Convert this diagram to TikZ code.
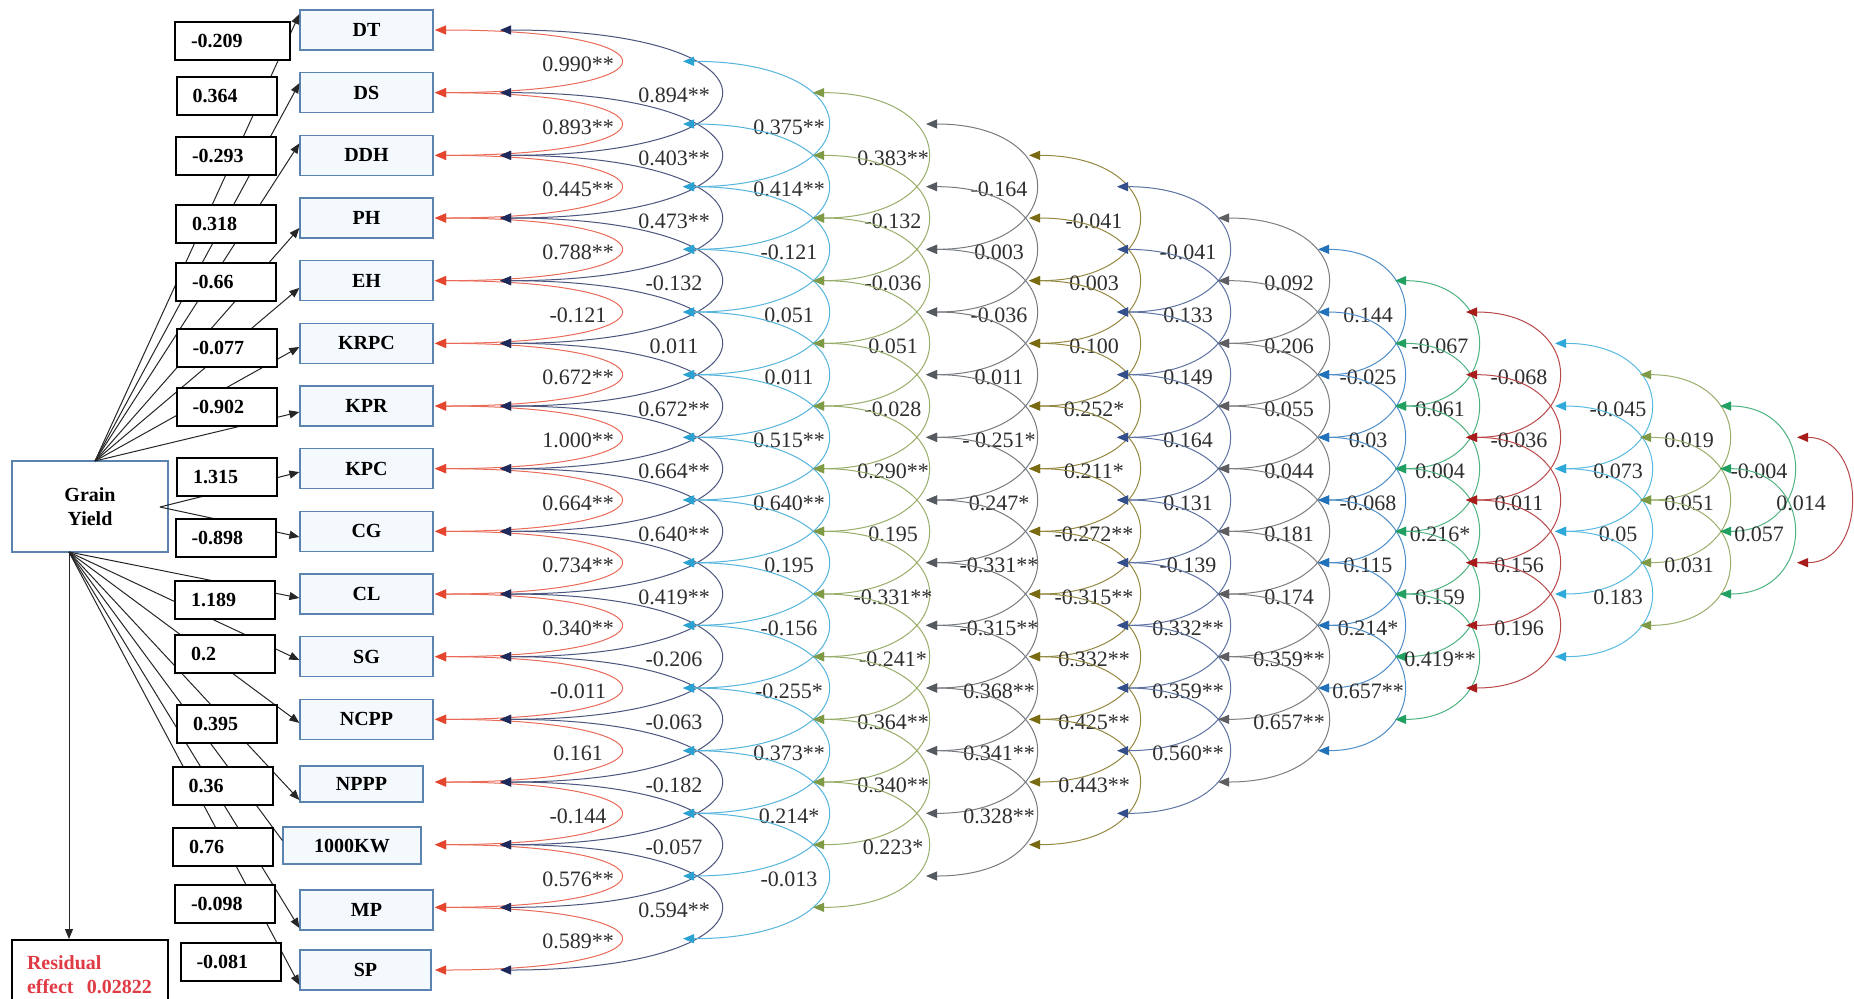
\documentclass[tikz,border=0pt]{standalone}
\usepackage{fontspec}
\setmainfont{Liberation Serif}
\usetikzlibrary{arrows.meta}

% arc colours, one per correlation column
\definecolor{k1}{HTML}{E4462E}
\definecolor{k2}{HTML}{1E2A5C}
\definecolor{k3}{HTML}{2AA3D3}
\definecolor{k4}{HTML}{7E9A45}
\definecolor{k5}{HTML}{555A60}
\definecolor{k6}{HTML}{7A6A12}
\definecolor{k7}{HTML}{34508C}
\definecolor{k8}{HTML}{5E5E62}
\definecolor{k9}{HTML}{2272BA}
\definecolor{k10}{HTML}{22A062}
\definecolor{k11}{HTML}{A81C1C}
\definecolor{k12}{HTML}{2EA9DA}
\definecolor{k13}{HTML}{7E9A45}
\definecolor{k14}{HTML}{22A062}
\definecolor{k15}{HTML}{A81C1C}
\definecolor{boxblue}{HTML}{5B83B0}
\definecolor{boxfill}{HTML}{F4F9FD}
\definecolor{labgray}{HTML}{2E2E2E}
\definecolor{resred}{HTML}{E03A44}

\tikzset{
  varbox/.style={draw=boxblue, line width=0.6pt, fill=boxfill, minimum width=66.5pt,
    minimum height=20pt, inner sep=0pt, font=\fontsize{10}{12}\selectfont\bfseries},
  coefbox/.style={draw=black, line width=1pt, fill=white, minimum height=19pt,
    inner xsep=8pt, inner ysep=0pt, text width=34pt, align=left,
    font=\fontsize{10}{12}\selectfont\bfseries},
  gybox/.style={draw=boxblue, line width=0.8pt, fill=white, minimum width=78pt,
    minimum height=45.5pt, align=center, font=\fontsize{10}{12}\selectfont\bfseries},
  resbox/.style={draw=black, line width=1pt, fill=white, minimum width=78pt,
    minimum height=35pt, inner xsep=7.5pt, text width=63pt, align=left,
    text=resred, font=\fontsize{10}{12}\selectfont\bfseries},
  effline/.style={draw=black!85, line width=0.5pt, -{Triangle[length=5pt,width=4pt]}},
  plainline/.style={draw=black!85, line width=0.5pt},
  corr/.style={draw=#1!80!white, line width=0.5pt,
    arrows={Triangle[length=5.5pt,width=4.5pt,color=#1]-Triangle[length=5.5pt,width=4.5pt,color=#1]}},
  clab/.style={inner sep=0pt, text=labgray, font=\fontsize{11}{12}\selectfont},
}

% one column of double-headed correlation arcs
% #1 colour, #2 anchor x, #3 apex x, #4 label x, #5 first row, #6 rows spanned, #7 id, #8 labels
\newcommand\corrcolumn[8]{%
  \pgfmathsetmacro\cdx{(#3-#2)/0.75}%
  \foreach \ctxt [count=\cj from 0] in {#8} {%
    \pgfmathsetmacro\cya{30+(#5+\cj-1)*62.667}%
    \pgfmathsetmacro\cyb{\cya+#6*62.667}%
    \pgfmathsetmacro\cym{(\cya+\cyb)/2+3}%
    \coordinate (#7s\cj) at (#2,\cya);
    \coordinate (#7e\cj) at (#2,\cyb);
    \draw[corr=#1] (#7s\cj) .. controls +(\cdx,0) and +(\cdx,0) .. (#7e\cj);
    \node[clab] (#7l\cj) at (#4,\cym) {\ctxt};
  }%
}

\begin{document}
\begin{tikzpicture}[x=0.5pt,y=-0.5pt]
\useasboundingbox (0,0) rectangle (1854,998);
\fill[white] (0,0) rectangle (1854,998);

% trait boxes
\node[varbox] (v1) at (366.5,30) {DT};
\node[varbox] (v2) at (366.5,92.67) {DS};
\node[varbox] (v3) at (366.5,155.33) {DDH};
\node[varbox] (v4) at (366.5,218) {PH};
\node[varbox] (v5) at (366.5,280.67) {EH};
\node[varbox] (v6) at (366.5,343.33) {KRPC};
\node[varbox] (v7) at (366.5,406) {KPR};
\node[varbox] (v8) at (366.5,468.67) {KPC};
\node[varbox] (v9) at (366.5,531.33) {CG};
\node[varbox] (v10) at (366.5,594) {CL};
\node[varbox] (v11) at (366.5,656.67) {SG};
\node[varbox] (v12) at (366.5,719.33) {NCPP};
\node[varbox, minimum width=61.5pt, minimum height=18pt] (v13) at (361.5,784) {NPPP};
\node[varbox, minimum width=69pt, minimum height=18.5pt] (v14) at (352,845.5) {1000KW};
\node[varbox] (v15) at (366.5,910) {MP};
\node[varbox, minimum width=65.5pt] (v16) at (365.5,970) {SP};

% grain yield and residual
\node[gybox] (gy) at (90,506.5) {Grain\\Yield};
\node[resbox, anchor=north] (res) at (90,939) {Residual\\effect\ \ 0.02822};

\coordinate (gyT) at (95,461);
\coordinate (gyR) at (160,507);
\coordinate (gyB) at (69,552);

% direct-effect paths
\draw[effline] (gyT) -- ([yshift=8pt]v1.west);
\draw[effline] (gyT) -- ([yshift=4.8pt]v2.west);
\draw[effline] (gyT) -- ([yshift=6pt]v3.west);
\draw[effline] (gyT) -- ([yshift=-5pt]v4.west);
\draw[effline] (gyT) -- ([yshift=-3.6pt]v5.west);
\draw[effline] (gyT) -- ([yshift=-1.8pt]v6.west);
\draw[effline] (gyT) -- ([yshift=-3pt]v7.west);
\draw[effline] (gyR) -- ([yshift=-1.7pt]v8.west);
\draw[effline] (gyR) -- ([yshift=-2.8pt]v9.west);
\draw[effline] (gyB) -- ([yshift=-2pt]v10.west);
\draw[effline] (gyB) -- ([yshift=-1.7pt]v11.west);
\draw[effline] (gyB) -- ([yshift=-1.8pt]v12.west);
\draw[effline] (gyB) -- ([yshift=-8pt]v13.west);
\draw[plainline] (gyB) -- ([yshift=2.5pt]v14.west);
\draw[effline] (gyB) -- ([yshift=-9pt]v15.west);
\draw[effline] (gyB) -- ([yshift=-7.5pt]v16.west);
\draw[effline] (gyB) -- (res.north -| gyB);

% path coefficients
\node[coefbox, text width=41.5pt] (c1) at (232.5,40.5) {-0.209};
\node[coefbox] (c2) at (226.5,95.5) {0.364};
\node[coefbox] (c3) at (226,156) {-0.293};
\node[coefbox] (c4) at (226,223.5) {0.318};
\node[coefbox] (c5) at (226,282) {-0.66};
\node[coefbox] (c6) at (226.5,347.5) {-0.077};
\node[coefbox] (c7) at (226.5,406.5) {-0.902};
\node[coefbox] (c8) at (227,477) {1.315};
\node[coefbox] (c9) at (225.5,537.5) {-0.898};
\node[coefbox] (c10) at (225,600) {1.189};
\node[coefbox] (c11) at (225,654) {0.2};
\node[coefbox] (c12) at (227,723.5) {0.395};
\node[coefbox] (c13) at (222.5,786) {0.36};
\node[coefbox] (c14) at (223,846.5) {0.76};
\node[coefbox] (c15) at (225,904) {-0.098};
\node[coefbox] (c16) at (230.5,961.5) {-0.081};

% correlation arcs
\corrcolumn{k1}{435}{620}{578}{1}{1}{ca}{0.990**,0.893**,0.445**,0.788**,-0.121,0.672**,1.000**,0.664**,0.734**,0.340**,-0.011,0.161,-0.144,0.576**,0.589**}
\corrcolumn{k2}{500}{720}{674}{1}{2}{cb}{0.894**,0.403**,0.473**,-0.132,0.011,0.672**,0.664**,0.640**,0.419**,-0.206,-0.063,-0.182,-0.057,0.594**}
\corrcolumn{k3}{683}{827}{789}{1.5}{2}{cc}{0.375**,0.414**,-0.121,0.051,0.011,0.515**,0.640**,0.195,-0.156,-0.255*,0.373**,0.214*,-0.013}
\corrcolumn{k4}{813}{927}{893}{2}{2}{cd}{0.383**,-0.132,-0.036,0.051,-0.028,0.290**,0.195,-0.331**,-0.241*,0.364**,0.340**,0.223*}
\corrcolumn{k5}{926}{1035}{999}{2.5}{2}{ce}{-0.164,0.003,-0.036,0.011,- 0.251*,0.247*,-0.331**,-0.315**,0.368**,0.341**,0.328**}
\corrcolumn{k6}{1029}{1138}{1094}{3}{2}{cf}{-0.041,0.003,0.100,0.252*,0.211*,-0.272**,-0.315**,0.332**,0.425**,0.443**}
\corrcolumn{k7}{1117}{1228}{1188}{3.5}{2}{cg}{-0.041,0.133,0.149,0.164,0.131,-0.139,0.332**,0.359**,0.560**}
\corrcolumn{k8}{1218}{1327}{1289}{4}{2}{ch}{0.092,0.206,0.055,0.044,0.181,0.174,0.359**,0.657**}
\corrcolumn{k9}{1318}{1403}{1368}{4.5}{2}{ci}{0.144,-0.025,0.03,-0.068,0.115,0.214*,0.657**}
\corrcolumn{k10}{1395}{1477}{1440}{5}{2}{cj}{-0.067,0.061,0.004,0.216*,0.159,0.419**}
\corrcolumn{k11}{1466}{1558}{1519}{5.5}{2}{ck}{-0.068,-0.036,0.011,0.156,0.196}
\corrcolumn{k12}{1555}{1650}{1618}{6}{2}{cl}{-0.045,0.073,0.05,0.183}
\corrcolumn{k13}{1640}{1728}{1689}{6.5}{2}{cm}{0.019,0.051,0.031}
\corrcolumn{k14}{1720}{1793}{1759}{7}{2}{cn}{-0.004,0.057}
\corrcolumn{k15}{1797}{1850}{1801}{7.5}{2}{co}{0.014}
\end{tikzpicture}
\end{document}
